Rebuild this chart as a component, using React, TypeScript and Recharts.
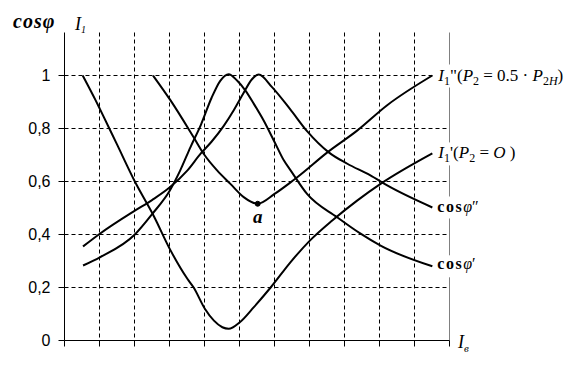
import React from "react";
import {
  LineChart,
  Line,
  XAxis,
  YAxis,
  CartesianGrid,
  ReferenceDot,
  ReferenceLine,
} from "recharts";

// ---- data ----
const xTicks = [0, 1, 2, 3, 4, 5, 6, 7, 8, 9, 10, 11];
const xGrid = [1, 2, 3, 4, 5, 6, 7, 8, 9, 10];
const yTicks = [0, 0.2, 0.4, 0.6, 0.8, 1];
const yGrid = [0.2, 0.4, 0.6, 0.8, 1];
const yTickLabels = ["0", "0,2", "0,4", "0,6", "0,8", "1"];

// cos φ'
const cosPhi1X = [0.53, 1.01, 2.01, 2.51, 3.01, 3.3, 3.6, 3.9, 4.2, 4.45, 4.69, 4.93, 5.17, 5.41, 5.69, 5.98, 6.27, 6.46, 6.93, 7.79, 8.46, 9.03, 10.51];
const cosPhi1Y = [0.283, 0.314, 0.4, 0.478, 0.566, 0.64, 0.73, 0.815, 0.915, 0.98, 1.005, 0.981, 0.943, 0.893, 0.83, 0.755, 0.679, 0.642, 0.553, 0.465, 0.403, 0.358, 0.28];

// cos φ''
const cosPhi2X = [0.53, 1.01, 2.01, 2.5, 3.01, 3.5, 3.89, 4.2, 4.55, 4.84, 5.12, 5.35, 5.55, 5.93, 6.44, 6.93, 7.55, 8.08, 8.74, 9.22, 10.51];
const cosPhi2Y = [0.355, 0.403, 0.49, 0.53, 0.578, 0.64, 0.705, 0.75, 0.81, 0.87, 0.935, 0.985, 1.004, 0.956, 0.874, 0.79, 0.71, 0.667, 0.623, 0.585, 0.502];

// I1' (P2 = 0)
const i1pX = [0.52, 0.89, 1.01, 1.5, 2.01, 2.55, 3.03, 3.51, 3.69, 4.01, 4.27, 4.51, 4.69, 5.01, 5.41, 5.89, 6.46, 7.01, 7.65, 8.36, 9.03, 10.51];
const i1pY = [1.0, 0.906, 0.874, 0.74, 0.6, 0.47, 0.34, 0.233, 0.2, 0.12, 0.075, 0.05, 0.044, 0.069, 0.126, 0.2, 0.296, 0.377, 0.453, 0.528, 0.591, 0.706];

// I1'' (P2 = 0.5 P2н)
const i1ppX = [2.53, 3.03, 3.69, 3.98, 4.36, 4.74, 5.12, 5.52, 6.0, 6.44, 6.65, 7.51, 8.36, 9.21, 10.51];
const i1ppY = [1.0, 0.906, 0.767, 0.704, 0.642, 0.591, 0.541, 0.516, 0.553, 0.595, 0.616, 0.71, 0.792, 0.887, 1.0];

const pointA = { x: 5.52, y: 0.516 };

const zip = (xs: number[], ys: number[]) => xs.map((x, i) => ({ x, y: ys[i] }));

const cosPhi1 = zip(cosPhi1X, cosPhi1Y);
const cosPhi2 = zip(cosPhi2X, cosPhi2Y);
const i1p = zip(i1pX, i1pY);
const i1pp = zip(i1ppX, i1ppY);

const last = (a: { x: number; y: number }[]) => a[a.length - 1];

const SERIF = "'Liberation Serif', 'DejaVu Serif', serif";
const SANS = "'Liberation Sans', Arial, sans-serif";

const applyScale = (axis: any, v: number) => {
  const s = axis && axis.scale;
  if (!s) return 0;
  if (typeof s === "function") return s(v);
  if (typeof s.map === "function") return s.map(v);
  return 0;
};

const EmptyTick = () => <g />;

const makeLabel = (kind: string) => (props: any) => {
  const vb = props.viewBox || {};
  const x = vb.x + (vb.width || 0) / 2;
  const y = vb.y + (vb.height || 0) / 2;
  if (kind === "i1pp") {
    return (
      <g>
        <rect x={x + 2} y={y - 11} width={142} height={23} fill="#fff" />
        <text x={x + 6} y={y + 5} fontFamily={SERIF} fontSize={17} fill="#000">
          <tspan fontStyle="italic">I</tspan>
          <tspan fontSize={12} dy={4}>1</tspan>
          <tspan dy={-4}>"(</tspan>
          <tspan fontStyle="italic">P</tspan>
          <tspan fontSize={12} dy={4}>2</tspan>
          <tspan dy={-4}> = 0.5 · </tspan>
          <tspan fontStyle="italic">P</tspan>
          <tspan fontSize={12} dy={4}>2</tspan>
          <tspan fontSize={12} fontStyle="italic">Н</tspan>
          <tspan dy={-4}>)</tspan>
        </text>
      </g>
    );
  }
  if (kind === "i1p") {
    return (
      <g>
        <rect x={x + 2} y={y - 11} width={92} height={23} fill="#fff" />
        <text x={x + 6} y={y + 5} fontFamily={SERIF} fontSize={17} fill="#000">
          <tspan fontStyle="italic">I</tspan>
          <tspan fontSize={12} dy={4}>1</tspan>
          <tspan dy={-4}>'(</tspan>
          <tspan fontStyle="italic">P</tspan>
          <tspan fontSize={12} dy={4}>2</tspan>
          <tspan dy={-4}> = </tspan>
          <tspan fontStyle="italic">O</tspan>
          <tspan> )</tspan>
        </text>
      </g>
    );
  }
  if (kind === "cos2" || kind === "cos1") {
    return (
      <g>
        <rect x={x + 2} y={y - 11} width={56} height={22} fill="#fff" />
        <text x={x + 5} y={y + (kind === "cos2" ? 5 : 3)} fontFamily={SERIF} fontSize={16} fill="#000">
          <tspan fontWeight="bold" letterSpacing={1.5}>cos</tspan>
          <tspan fontStyle="italic">φ</tspan>
          <tspan>{kind === "cos2" ? "\u2033" : "\u2032"}</tspan>
        </text>
      </g>
    );
  }
  if (kind === "a") {
    return (
      <text x={x} y={y + 19} textAnchor="middle" fontFamily={SERIF} fontSize={19} fontWeight="bold" fontStyle="italic" fill="#000">
        a
      </text>
    );
  }
  return null;
};

export default function App() {
  return (
    <div style={{ position: "relative", width: 579, height: 381, background: "#fff" }}>
      <style>{"body{margin:0;background:#fff}"}</style>
      <LineChart
        width={579}
        height={381}
        margin={{ top: 32.5, right: 129.5, bottom: 0, left: 0.5 }}
      >
        <CartesianGrid
          stroke="#000"
          strokeDasharray="4 3"
          strokeWidth={1}
          verticalCoordinatesGenerator={(p: any) => xGrid.map((v) => applyScale(p.xAxis, v))}
          horizontalCoordinatesGenerator={(p: any) => yGrid.map((v) => applyScale(p.yAxis, v))}
        />
        <XAxis
          type="number"
          dataKey="x"
          domain={[0, 11]}
          ticks={xTicks}
          allowDataOverflow
          height={40.5}
          tick={EmptyTick}
          tickSize={6}
          axisLine={{ stroke: "#000", strokeWidth: 1 }}
          tickLine={{ stroke: "#000", strokeWidth: 1 }}
        />
        <YAxis
          type="number"
          domain={[0, 1.1623]}
          ticks={yTicks}
          allowDataOverflow
          width={64}
          tickSize={6}
          tickMargin={8}
          interval={0}
          tickFormatter={(v: number) => yTickLabels[yTicks.indexOf(v)] ?? ""}
          tick={{ fill: "#000", fontFamily: SANS, fontSize: 16 }}
          axisLine={{ stroke: "#000", strokeWidth: 1 }}
          tickLine={{ stroke: "#000", strokeWidth: 1 }}
        />
        <ReferenceLine x={11} stroke="#808080" strokeWidth={1} />
        <Line data={cosPhi1} dataKey="y" type="monotone" stroke="#000" strokeWidth={2} dot={false} isAnimationActive={false} />
        <Line data={cosPhi2} dataKey="y" type="monotone" stroke="#000" strokeWidth={2} dot={false} isAnimationActive={false} />
        <Line data={i1p} dataKey="y" type="monotone" stroke="#000" strokeWidth={2} dot={false} isAnimationActive={false} />
        <Line data={i1pp} dataKey="y" type="monotone" stroke="#000" strokeWidth={2} dot={false} isAnimationActive={false} />
        <ReferenceDot x={last(i1pp).x} y={last(i1pp).y} r={0} fill="none" stroke="none" label={makeLabel("i1pp")} />
        <ReferenceDot x={last(i1p).x} y={last(i1p).y} r={0} fill="none" stroke="none" label={makeLabel("i1p")} />
        <ReferenceDot x={last(cosPhi2).x} y={last(cosPhi2).y} r={0} fill="none" stroke="none" label={makeLabel("cos2")} />
        <ReferenceDot x={last(cosPhi1).x} y={last(cosPhi1).y} r={0} fill="none" stroke="none" label={makeLabel("cos1")} />
        <ReferenceDot x={pointA.x} y={pointA.y} r={2.5} fill="#000" stroke="#000" label={makeLabel("a")} />
      </LineChart>
      <svg
        width={579}
        height={381}
        style={{ position: "absolute", left: 0, top: 0, pointerEvents: "none" }}
      >
        <text x={13} y={28} fontFamily={SERIF} fontSize={20} fontStyle="italic" fontWeight="bold" letterSpacing={1} fill="#000">
          cosφ
        </text>
        <text x={75} y={30} fontFamily={SERIF} fontSize={18} fontStyle="italic" fill="#000">
          I<tspan fontSize={10} dy={3}>1</tspan>
        </text>
        <text x={458} y={348} fontFamily={SERIF} fontSize={18} fontStyle="italic" fill="#000">
          I<tspan fontSize={11} dy={4}>в</tspan>
        </text>
      </svg>
    </div>
  );
}
